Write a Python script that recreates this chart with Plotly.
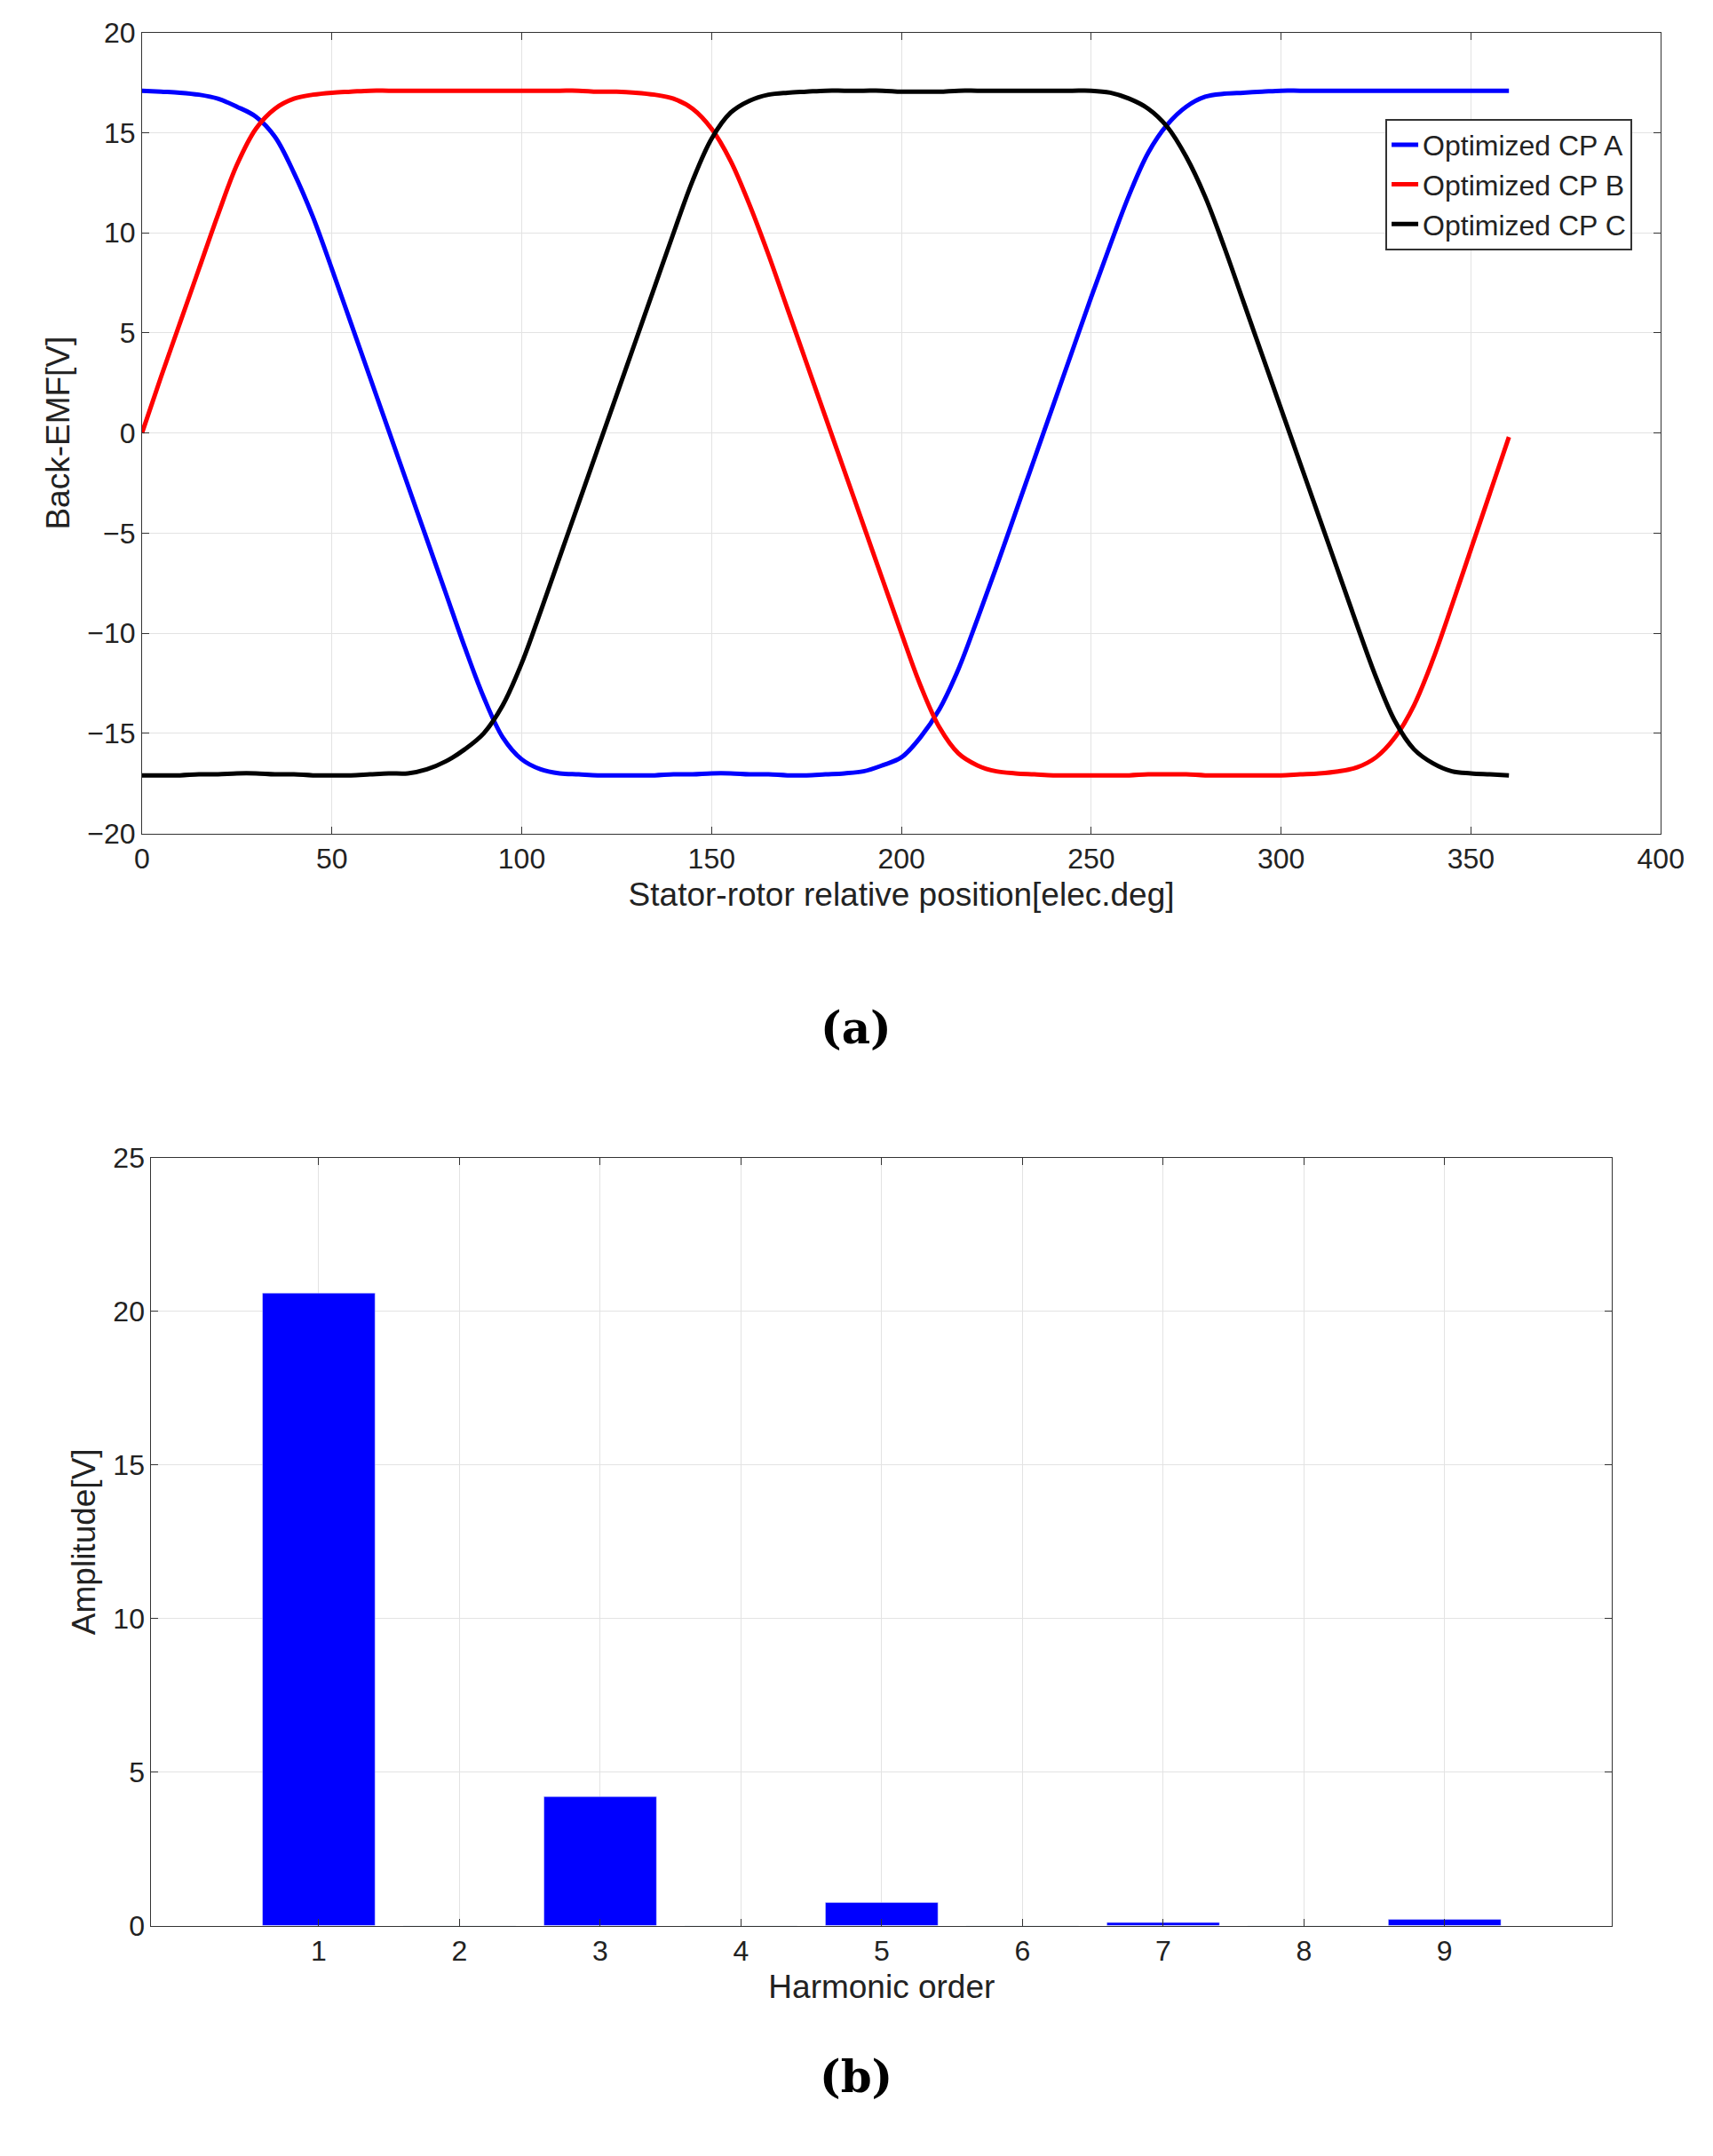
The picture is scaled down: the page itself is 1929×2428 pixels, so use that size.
import plotly.graph_objects as go

pos = list(range(0, 365, 5))

emf_a = [17.1, 17.05, 17.0, 16.9, 16.7, 16.3, 15.8, 14.8, 13.0, 10.8, 8.2, 5.5, 2.8, 0.1, -2.6, -5.3,
         -8.0, -10.7, -13.2, -15.2, -16.3, -16.8, -17.0, -17.05, -17.1, -17.1, -17.1, -17.1, -17.05, -17.05,
         -17.0, -17.0, -17.05, -17.05, -17.1, -17.1, -17.05, -17.0, -16.9, -16.6, -16.2, -15.2, -13.8, -11.8,
         -9.3, -6.7, -4.0, -1.3, 1.4, 4.1, 6.8, 9.4, 11.9, 14.0, 15.4, 16.3, 16.8, 16.95, 17.0, 17.05,
         17.1, 17.1, 17.1, 17.1, 17.1, 17.1, 17.1, 17.1, 17.1, 17.1, 17.1, 17.1, 17.1]
emf_b = [0.0, 2.8, 5.5, 8.2, 10.9, 13.4, 15.2, 16.2, 16.7, 16.9, 17.0, 17.05, 17.1, 17.1, 17.1, 17.1,
         17.1, 17.1, 17.1, 17.1, 17.1, 17.1, 17.1, 17.1, 17.05, 17.05, 17.0, 16.9, 16.7, 16.2, 15.2, 13.6,
         11.4, 8.9, 6.2, 3.5, 0.8, -1.9, -4.6, -7.3, -10.0, -12.6, -14.7, -16.0, -16.6, -16.9, -17.0, -17.05,
         -17.1, -17.1, -17.1, -17.1, -17.1, -17.05, -17.05, -17.05, -17.1, -17.1, -17.1, -17.1, -17.1, -17.05,
         -17.0, -16.9, -16.7, -16.2, -15.2, -13.6, -11.3, -8.6, -5.8, -3.0, -0.2]
emf_c = [-17.1, -17.1, -17.1, -17.05, -17.05, -17.0, -17.0, -17.05, -17.05, -17.1, -17.1, -17.1, -17.05, -17.0,
         -17.0, -16.8, -16.4, -15.8, -15.0, -13.6, -11.5, -8.9, -6.2, -3.5, -0.8, 1.9, 4.6, 7.3, 10.0, 12.6,
         14.7, 16.0, 16.6, 16.9, 17.0, 17.05, 17.1, 17.1, 17.1, 17.1, 17.05, 17.05, 17.05, 17.1, 17.1, 17.1,
         17.1, 17.1, 17.1, 17.1, 17.1, 17.0, 16.7, 16.2, 15.3, 13.8, 11.8, 9.3, 6.6, 3.9, 1.2, -1.5,
         -4.2, -6.9, -9.6, -12.2, -14.4, -15.8, -16.5, -16.9, -17.0, -17.05, -17.1]

harmonics = [1, 2, 3, 4, 5, 6, 7, 8, 9]
amplitude = [20.6, 0, 4.2, 0, 0.75, 0, 0.1, 0, 0.2]

fig = go.Figure()
for name, ys, col in [("Optimized CP A", emf_a, "blue"), ("Optimized CP B", emf_b, "red"),
                      ("Optimized CP C", emf_c, "black")]:
    fig.add_trace(go.Scatter(x=pos, y=ys, name=name, mode="lines", line=dict(color=col, width=5, shape="spline"),
                             xaxis="x", yaxis="y"))
fig.add_trace(go.Bar(x=harmonics, y=amplitude, marker_color="blue", width=0.8, showlegend=False,
                     xaxis="x2", yaxis="y2"))

ax = dict(showline=True, linecolor="#333", mirror="ticks", ticks="inside", ticklen=8, tickcolor="#333",
          gridcolor="#e3e3e3", zeroline=False, tickfont=dict(size=32, color="#222"),
          title_font=dict(size=37, color="#222"))
fig.update_layout(
    width=1929, height=2428, paper_bgcolor="white", plot_bgcolor="white",
    font=dict(family="Arial, Liberation Sans"),
    margin=dict(l=0, r=0, t=0, b=0),
    xaxis=dict(ax, domain=[0.0755, 0.979], range=[0, 400], dtick=50, anchor="y",
               title=dict(text="Stator-rotor relative position[elec.deg]", standoff=10)),
    yaxis=dict(ax, domain=[0.6185, 0.9955], range=[-20, 20], dtick=5, anchor="x",
               title=dict(text="Back-EMF[V]", standoff=8)),
    xaxis2=dict(ax, domain=[0.081, 0.950], range=[-0.19, 10.19], tickvals=harmonics, anchor="y2",
                title=dict(text="Harmonic order", standoff=10)),
    yaxis2=dict(ax, domain=[0.1043, 0.4657], range=[0, 25], dtick=5, anchor="x2",
                title=dict(text="Amplitude[V]", standoff=8)),
    legend=dict(x=0.962, y=0.955, xanchor="right", yanchor="top", bgcolor="white", bordercolor="#333",
                borderwidth=2, font=dict(size=32, color="#222")),
    annotations=[
        dict(text="<b>(a)</b>", x=0.5, y=0.527, xref="paper", yref="paper", showarrow=False,
             font=dict(family="DejaVu Serif", size=50, color="black")),
        dict(text="<b>(b)</b>", x=0.5, y=0.020, xref="paper", yref="paper", showarrow=False,
             font=dict(family="DejaVu Serif", size=50, color="black")),
    ],
)
fig.write_html("out.html")
